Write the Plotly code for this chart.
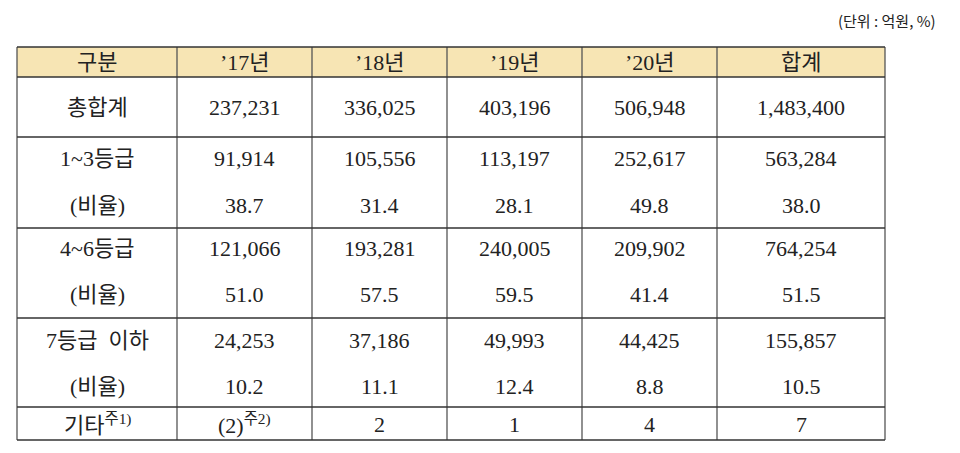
import plotly.graph_objects as go

# table content
headers = ["구분", "’17년", "’18년", "’19년", "’20년", "합계"]
row_labels = ["총합계", "1~3등급", "(비율)", "4~6등급", "(비율)", "7등급  이하", "(비율)", "기타<sup>주1)</sup>"]
col_2017 = ["237,231", "91,914", "38.7", "121,066", "51.0", "24,253", "10.2", "(2)<sup>주2)</sup>"]
col_2018 = ["336,025", "105,556", "31.4", "193,281", "57.5", "37,186", "11.1", "2"]
col_2019 = ["403,196", "113,197", "28.1", "240,005", "59.5", "49,993", "12.4", "1"]
col_2020 = ["506,948", "252,617", "49.8", "209,902", "41.4", "44,425", "8.8", "4"]
col_total = ["1,483,400", "563,284", "38.0", "764,254", "51.5", "155,857", "10.5", "7"]

# layout grid (pixels)
col_edges = [17, 177, 312, 447, 582, 717, 885]
row_edges = [47, 77, 137, 228, 318, 407, 440]
header_y = 62
line_y = [107, 158, 205, 248, 294, 340, 386, 424]

font = "Liberation Serif, Noto Sans CJK KR, serif"
columns = [row_labels, col_2017, col_2018, col_2019, col_2020, col_total]

fig = go.Figure()
fig.add_shape(type="rect", x0=col_edges[0], x1=col_edges[-1], y0=row_edges[0], y1=row_edges[1],
              fillcolor="#f7e5b4", line=dict(width=0), layer="below")
for x in col_edges:
    fig.add_shape(type="line", x0=x, x1=x, y0=row_edges[0], y1=row_edges[-1], line=dict(color="#555", width=1.3))
for y in row_edges:
    fig.add_shape(type="line", x0=col_edges[0], x1=col_edges[-1], y0=y, y1=y, line=dict(color="#333", width=1.3))

for i, col in enumerate(columns):
    cx = (col_edges[i] + col_edges[i + 1]) / 2
    fig.add_annotation(x=cx, y=header_y, text=headers[i], showarrow=False, font=dict(family=font, size=22, color="#222"))
    for text, y in zip(col, line_y):
        fig.add_annotation(x=cx, y=y, text=text, showarrow=False, font=dict(family=font, size=22, color="#222"))

fig.add_annotation(x=938, y=20, text="(단위 : 억원, %)", showarrow=False, xanchor="right",
                   font=dict(family="Noto Sans CJK KR", size=15, color="#222"))

# offsets compensate for the page's default body margin
fig.update_xaxes(range=[8, 968], visible=False, fixedrange=True)
fig.update_yaxes(range=[461, 8], visible=False, fixedrange=True)
fig.update_layout(width=960, height=453, margin=dict(l=0, r=0, t=0, b=0),
                  plot_bgcolor="white", paper_bgcolor="white", showlegend=False)

fig.write_html("out.html")
